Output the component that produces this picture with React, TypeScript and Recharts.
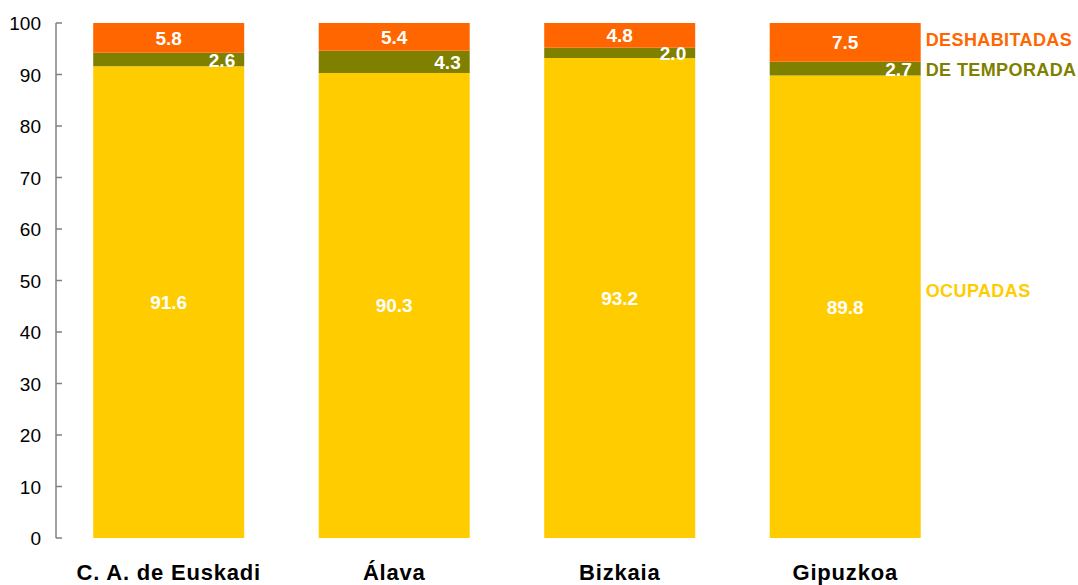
import React from "react";
import { BarChart, Bar, XAxis, YAxis, LabelList } from "recharts";

const categories = ["C. A. de Euskadi", "Álava", "Bizkaia", "Gipuzkoa"];
const ocupadas = [91.6, 90.3, 93.2, 89.8];
const temporada = [2.6, 4.3, 2.0, 2.7];
const deshabitadas = [5.8, 5.4, 4.8, 7.5];
const yTicks = [0, 10, 20, 30, 40, 50, 60, 70, 80, 90, 100];
const seriesNames = ["OCUPADAS", "DE TEMPORADA", "DESHABITADAS"];

const data = categories.map((name, i) => ({
  name,
  ocupadas: ocupadas[i],
  temporada: temporada[i],
  deshabitadas: deshabitadas[i],
}));

const FONT = "'Liberation Sans', Arial, sans-serif";
const C_OCU = "#FFCC00";
const C_TEM = "#808000";
const C_DES = "#FF6600";
const AXIS = "#808080";
const lastIndex = categories.length - 1;

const makeLabel = (mode: "center" | "right", name: string, color: string, nameDy: number) => (props: any) => {
  const { x, y, width, height, value, index } = props;
  const cy = Number(y) + Number(height) / 2;
  const tx = mode === "center" ? Number(x) + Number(width) / 2 : Number(x) + Number(width) - 9;
  return (
    <g>
      <text
        x={tx}
        y={cy}
        dy={7}
        textAnchor={mode === "center" ? "middle" : "end"}
        fill="#FFFFFF"
        fontFamily={FONT}
        fontWeight="bold"
        fontSize={19}
      >
        {Number(value).toFixed(1)}
      </text>
      {index === lastIndex ? (
        <text
          x={Number(x) + Number(width) + 5}
          y={cy + nameDy}
          dy={6.5}
          textAnchor="start"
          fill={color}
          fontFamily={FONT}
          fontWeight="bold"
          fontSize={18}
          letterSpacing={0.4}
        >
          {name}
        </text>
      ) : null}
    </g>
  );
};

const YTick = (props: any) => {
  const { x, y, payload } = props;
  return (
    <g>
      <line x1={x + 15} x2={x + 21} y1={y} y2={y} stroke={AXIS} strokeWidth={1.5} />
      <text x={x} y={y} dy={7} textAnchor="end" fill="#000" fontFamily={FONT} fontSize={19}>
        {payload.value}
      </text>
    </g>
  );
};

const XTick = (props: any) => {
  const { x, y, payload } = props;
  return (
    <text
      x={x}
      y={y}
      dy={42}
      textAnchor="middle"
      fill="#000"
      fontFamily={FONT}
      fontWeight="bold"
      fontSize={22}
      letterSpacing={0.8}
    >
      {payload.value}
    </text>
  );
};

export default function App() {
  return (
    <div style={{ position: "absolute", left: 8, top: 8, width: 1070, height: 577, overflow: "hidden" }}>
      <BarChart
        width={1070}
        height={577}
        data={data}
        margin={{ top: 15, right: 120, bottom: 7, left: 8 }}
        barCategoryGap="16.5%"
      >
        <XAxis
          dataKey="name"
          axisLine={false}
          tickLine={false}
          tickSize={0}
          tickMargin={0}
          height={40}
          tick={<XTick />}
          interval={0}
        />
        <YAxis
          domain={[0, 100]}
          ticks={yTicks}
          width={40}
          tickSize={0}
          tickMargin={15}
          axisLine={{ stroke: AXIS, strokeWidth: 1.5 }}
          tickLine={false}
          tick={<YTick />}
          interval={0}
        />
        <Bar dataKey="ocupadas" stackId="a" fill={C_OCU} isAnimationActive={false}>
          <LabelList dataKey="ocupadas" content={makeLabel("center", seriesNames[0], C_OCU, -16)} />
        </Bar>
        <Bar dataKey="temporada" stackId="a" fill={C_TEM} isAnimationActive={false}>
          <LabelList dataKey="temporada" content={makeLabel("right", seriesNames[1], C_TEM, 1)} />
        </Bar>
        <Bar dataKey="deshabitadas" stackId="a" fill={C_DES} isAnimationActive={false}>
          <LabelList dataKey="deshabitadas" content={makeLabel("center", seriesNames[2], C_DES, -3)} />
        </Bar>
      </BarChart>
    </div>
  );
}
